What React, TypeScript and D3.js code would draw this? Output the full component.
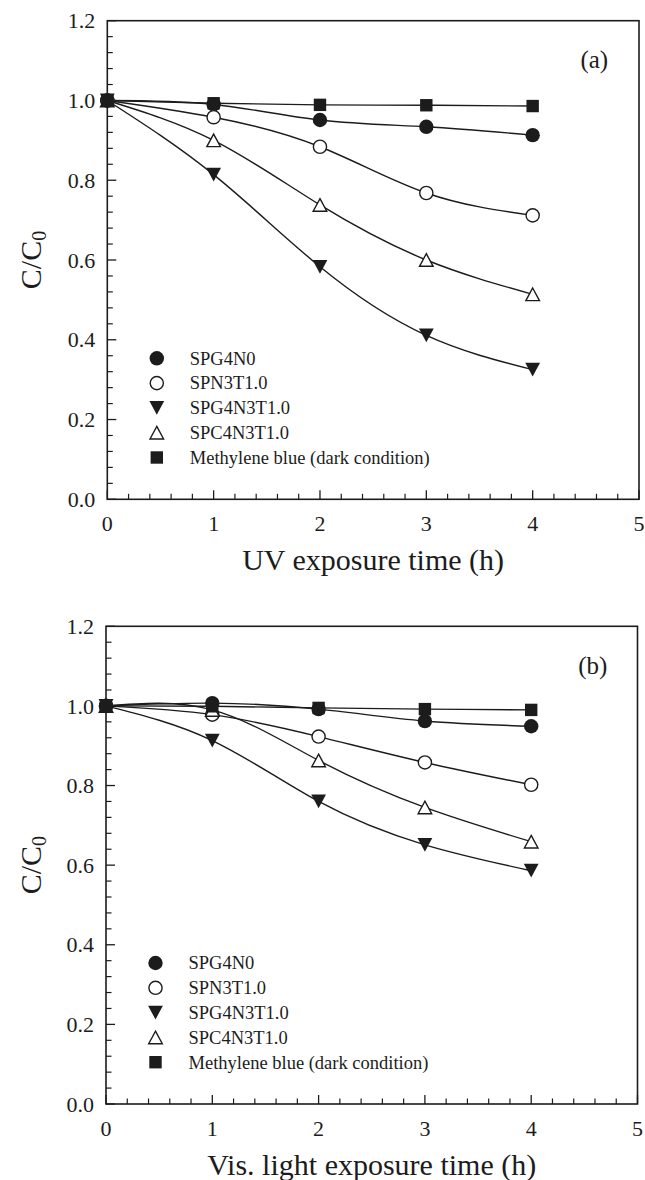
import React from 'react';
import * as d3 from 'd3';

// ---------- data ----------
const timesH = [0, 1, 2, 3, 4];
const seriesNames = ['SPG4N0', 'SPN3T1.0', 'SPG4N3T1.0', 'SPC4N3T1.0', 'Methylene blue (dark condition)'];
const seriesMarkers = ['circleFilled', 'circleOpen', 'triDownFilled', 'triUpOpen', 'squareFilled'];

// panel (a): UV
const uvSPG4N0 = [1.0, 0.99, 0.951, 0.934, 0.913];
const uvSPN3T10 = [1.0, 0.958, 0.884, 0.768, 0.712];
const uvSPG4N3T10 = [1.0, 0.814, 0.583, 0.411, 0.325];
const uvSPC4N3T10 = [1.0, 0.9, 0.738, 0.6, 0.514];
const uvMB = [1.0, 0.993, 0.989, 0.988, 0.986];

// panel (b): visible light
const visSPG4N0 = [1.0, 1.007, 0.992, 0.962, 0.949];
const visSPN3T10 = [1.0, 0.978, 0.923, 0.858, 0.802];
const visSPG4N3T10 = [1.0, 0.913, 0.76, 0.651, 0.586];
const visSPC4N3T10 = [1.0, 0.99, 0.863, 0.745, 0.659];
const visMB = [1.0, 0.999, 0.995, 0.992, 0.99];

const xTickValues = [0, 1, 2, 3, 4, 5];
const yTickValues = [0, 0.2, 0.4, 0.6, 0.8, 1.0, 1.2];
const xTickLabels = ['0', '1', '2', '3', '4', '5'];
const yTickLabels = ['0.0', '0.2', '0.4', '0.6', '0.8', '1.0', '1.2'];
const panelLetters = ['(a)', '(b)'];
const xTitles = ['UV exposure time (h)', 'Vis. light exposure time (h)'];

const FONT = '"Liberation Serif", "Times New Roman", serif';
const INK = '#1c1c1c';

function Marker({ type, x, y }: { type: string; x: number; y: number }) {
  const r = 7.2;
  if (type === 'circleFilled') return <circle cx={x} cy={y} r={r} fill={INK} />;
  if (type === 'circleOpen')
    return <circle cx={x} cy={y} r={6.6} fill="#fff" stroke={INK} strokeWidth={1.4} />;
  if (type === 'squareFilled') return <rect x={x - 6.2} y={y - 6.2} width={12.4} height={12.4} fill={INK} />;
  const w = 14.8, h = 13.8;
  if (type === 'triDownFilled')
    return <path d={`M${x - w / 2},${y - h / 2}L${x + w / 2},${y - h / 2}L${x},${y + h / 2}Z`} fill={INK} />;
  // triUpOpen
  const w2 = 13.6, h2 = 12.6;
  return (
    <path
      d={`M${x},${y - h2 / 2}L${x + w2 / 2},${y + h2 / 2}L${x - w2 / 2},${y + h2 / 2}Z`}
      fill="#fff"
      stroke={INK}
      strokeWidth={1.4}
      strokeLinejoin="miter"
    />
  );
}

function Panel({
  box,
  series,
  letter,
  xTitle,
}: {
  box: { left: number; right: number; top: number; bottom: number };
  series: number[][];
  letter: string;
  xTitle: string;
}) {
  const x = d3.scaleLinear().domain([0, 5]).range([box.left, box.right]);
  const y = d3.scaleLinear().domain([0, 1.2]).range([box.bottom, box.top]);
  const line = d3
    .line<number>()
    .x((_, i) => x(timesH[i]))
    .y((d) => y(d))
    .curve(d3.curveNatural);

  const xMinor = d3.range(0, 5.0001, 0.2).filter((v) => Math.abs(v - Math.round(v)) > 1e-6);
  const yMinor = d3.range(0, 1.2001, 0.04).filter((v) => Math.abs(v / 0.2 - Math.round(v / 0.2)) > 1e-6);

  const legendRow0 = box.bottom - 141;
  const legendStep = 24.8;
  const cy = (box.top + box.bottom) / 2;

  return (
    <g>
      {/* lines */}
      {series.map((s, i) => (
        <path key={'l' + i} d={line(s) || ''} fill="none" stroke={INK} strokeWidth={1.4} />
      ))}
      {/* frame */}
      <rect
        x={box.left}
        y={box.top}
        width={box.right - box.left}
        height={box.bottom - box.top}
        fill="none"
        stroke={INK}
        strokeWidth={1.6}
      />
      {/* x ticks */}
      {xTickValues.map((v) => (
        <line key={'xt' + v} x1={x(v)} x2={x(v)} y1={box.bottom} y2={box.bottom - 9} stroke={INK} strokeWidth={1.3} />
      ))}
      {xMinor.map((v, i) => (
        <line key={'xm' + i} x1={x(v)} x2={x(v)} y1={box.bottom} y2={box.bottom - 5.5} stroke={INK} strokeWidth={1.2} />
      ))}
      {/* y ticks */}
      {yTickValues.map((v) => (
        <line key={'yt' + v} x1={box.left} x2={box.left + 9} y1={y(v)} y2={y(v)} stroke={INK} strokeWidth={1.3} />
      ))}
      {yMinor.map((v, i) => (
        <line key={'ym' + i} x1={box.left} x2={box.left + 5.5} y1={y(v)} y2={y(v)} stroke={INK} strokeWidth={1.2} />
      ))}
      {/* tick labels */}
      {xTickValues.map((v, i) => (
        <text key={'xl' + v} x={x(v)} y={box.bottom + 32} textAnchor="middle" fontSize={22} fontFamily={FONT} fill={INK}>
          {xTickLabels[i]}
        </text>
      ))}
      {yTickValues.map((v, i) => (
        <text key={'yl' + v} x={box.left - 12} y={y(v) + 7.6} textAnchor="end" fontSize={22} fontFamily={FONT} fill={INK}>
          {yTickLabels[i]}
        </text>
      ))}
      {/* markers */}
      {series.map((s, i) =>
        s.map((v, j) => <Marker key={'m' + i + '-' + j} type={seriesMarkers[i]} x={x(timesH[j])} y={y(v)} />)
      )}
      {/* panel letter */}
      <text x={x(4.58)} y={y(1.081)} textAnchor="middle" fontSize={25} fontFamily={FONT} fill={INK}>
        {letter}
      </text>
      {/* legend */}
      {seriesNames.map((name, i) => (
        <g key={'lg' + i}>
          <Marker type={seriesMarkers[i]} x={box.left + 49.5} y={legendRow0 + i * legendStep} />
          <text
            x={box.left + 82.5}
            y={legendRow0 + i * legendStep + 6.3}
            fontSize={18.5}
            fontFamily={FONT}
            fill={INK}
          >
            {name}
          </text>
        </g>
      ))}
      {/* axis titles */}
      <text x={(box.left + box.right) / 2} y={box.bottom + 71} textAnchor="middle" fontSize={30} fontFamily={FONT} fill={INK}>
        {xTitle}
      </text>
      <text
        transform={`translate(41,${cy}) rotate(-90)`}
        textAnchor="middle"
        fontSize={30}
        fontFamily={FONT}
        fill={INK}
      >
        C/C
        <tspan fontSize={20} dy={5}>
          0
        </tspan>
      </text>
    </g>
  );
}

export default function App() {
  const boxA = { left: 107.3, right: 639, top: 20.7, bottom: 499.3 };
  const boxB = { left: 106, right: 637.5, top: 626.3, bottom: 1104 };
  return (
    <svg
      width={645}
      height={1180}
      viewBox="0 0 645 1180"
      style={{ position: 'absolute', left: 0, top: 0, background: '#fff' }}
    >
      <rect x={0} y={0} width={645} height={1180} fill="#fff" />
      <Panel
        box={boxA}
        series={[uvSPG4N0, uvSPN3T10, uvSPG4N3T10, uvSPC4N3T10, uvMB]}
        letter={panelLetters[0]}
        xTitle={xTitles[0]}
      />
      <Panel
        box={boxB}
        series={[visSPG4N0, visSPN3T10, visSPG4N3T10, visSPC4N3T10, visMB]}
        letter={panelLetters[1]}
        xTitle={xTitles[1]}
      />
    </svg>
  );
}
